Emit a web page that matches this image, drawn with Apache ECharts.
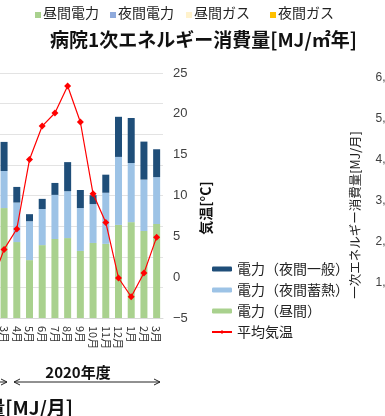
<!DOCTYPE html>
<html><head><meta charset="utf-8">
<script src="https://cdn.jsdelivr.net/npm/echarts@6/dist/echarts.min.js"></script>
<style>html,body{margin:0;padding:0;background:#fff;overflow:hidden;width:385px;height:416px;}
#c{position:absolute;left:-15px;top:0;width:400px;height:416px;}</style>
</head><body><div id="c"></div>
<script>
// Categories (first one is cut off the left edge in the reference)
const months = ['2月','3月','4月','5月','6月','7月','8月','9月','10月','11月','12月','1月','2月','3月'];
// Stacked electricity (left axis, units of 10^5 MJ)
const dayPower   = [null, 3.59, 2.48, 1.89, 2.38, 2.58, 2.61, 2.19, 2.45, 2.42, 3.04, 3.13, 2.84, 3.07];
const nightStore = [null, 1.21, 1.29, 1.27, 1.18, 1.44, 1.53, 1.40, 1.27, 1.67, 2.22, 1.93, 1.68, 1.53];
const nightGen   = [null, 0.95, 0.51, 0.23, 0.33, 0.39, 0.95, 0.59, 0.29, 0.59, 1.31, 1.47, 1.24, 0.91];
// Average temperature (right axis, °C)
const avgTemp    = [-0.8, 3.4, 5.9, 14.4, 18.5, 20.1, 23.4, 19.0, 10.2, 6.7, -0.1, -2.4, 0.5, 4.9];
// Neighbouring chart's tick values (cut at right edge)
const sideTicks  = [0, 1000000, 2000000, 3000000, 4000000, 5000000, 6000000];
// Header legend texts
const headerNames  = ['昼間電力','夜間電力','昼間ガス','夜間ガス'];
const headerColors = ['#a9d18e','#8faadc','#fff2cc','#ffc000'];
const seriesNames = ['電力（夜間一般）','電力（夜間蓄熱）','電力（昼間）','平均気温'];

const JP = '"Noto Sans CJK JP", sans-serif';
const OX = 15; // chart canvas is shifted 15px to the left of the page
const chart = echarts.init(document.getElementById('c'), null, {renderer:'canvas'});

const headerX = [35, 110, 186, 270];
const graphics = [];
headerNames.forEach((n,i)=>{
  graphics.push({type:'rect', left:headerX[i]+OX, top:12, shape:{width:6,height:6}, style:{fill:headerColors[i]}});
  graphics.push({type:'text', left:headerX[i]+8+OX, top:6, style:{text:n, font:'14px '+JP, fill:'#222'}});
});
graphics.push({type:'text', left:50+OX, top:30, style:{text:'病院1次エネルギー消費量[MJ/㎡年]', font:'bold 19px '+JP, fill:'#111'}});
graphics.push({type:'text', x:206+OX, y:208, rotation:Math.PI/2, style:{text:'気温[°C]', font:'bold 14px '+JP, fill:'#111', align:'center', verticalAlign:'middle'}});
graphics.push({type:'text', x:355+OX, y:215, rotation:Math.PI/2, style:{text:'一次エネルギー消費量[MJ/月]', font:'12.5px '+JP, fill:'#222', align:'center', verticalAlign:'middle'}});
graphics.push({type:'text', x:78+OX, y:372, style:{text:'2020年度', font:'bold 15px '+JP, fill:'#111', align:'center', verticalAlign:'middle'}});
graphics.push({type:'line', shape:{x1:14+OX,y1:382,x2:160+OX,y2:382}, style:{stroke:'#222', lineWidth:1}});
graphics.push({type:'polyline', shape:{points:[[20+OX,379],[14+OX,382],[20+OX,385]]}, style:{stroke:'#222', lineWidth:1, fill:null}});
graphics.push({type:'polyline', shape:{points:[[154+OX,379],[160+OX,382],[154+OX,385]]}, style:{stroke:'#222', lineWidth:1, fill:null}});
graphics.push({type:'line', shape:{x1:0,y1:382,x2:7+OX,y2:382}, style:{stroke:'#222', lineWidth:1}});
graphics.push({type:'polyline', shape:{points:[[1+OX,379],[7+OX,382],[1+OX,385]]}, style:{stroke:'#222', lineWidth:1, fill:null}});
graphics.push({type:'text', x:73+OX, y:408, style:{text:'病院1次エネルギー消費量[MJ/月]', font:'bold 19px '+JP, fill:'#111', align:'right', verticalAlign:'middle'}});

chart.setOption({
  animation:false,
  backgroundColor:'#fff',
  textStyle:{fontFamily:JP},
  grid:[
    {left:0, right:222, top:73, bottom:98, containLabel:false},
    {left:452, width:100, top:78, bottom:92, containLabel:false}
  ],
  legend:{
    orient:'vertical', left:206+OX, top:257, itemGap:7, itemWidth:20, itemHeight:5,
    textStyle:{fontSize:14, color:'#222', fontFamily:JP},
    data:seriesNames.map(n=>({name:n}))
  },
  xAxis:[
    {type:'category', gridIndex:0, data:months,
     axisLine:{show:true, lineStyle:{color:'#d9d9d9'}}, axisTick:{show:false},
     axisLabel:{rotate:-90, interval:0, fontSize:11, color:'#333', margin:8, fontFamily:JP}},
    {type:'category', gridIndex:1, data:['a'], show:false}
  ],
  yAxis:[
    {type:'value', gridIndex:0, min:0, max:8, interval:1, position:'left',
     axisLabel:{show:false}, axisLine:{show:false}, axisTick:{show:false},
     splitLine:{lineStyle:{color:'#e3e3e3'}}},
    {type:'value', gridIndex:0, min:-5, max:25, interval:5, position:'right',
     axisLabel:{fontSize:13, color:'#404040', margin:10, fontFamily:'"Liberation Sans", Arial, sans-serif',
       formatter:v=> v<0 ? '−'+Math.abs(v) : String(v)},
     axisLine:{show:false}, axisTick:{show:false}, splitLine:{show:false}},
    {type:'value', gridIndex:1, min:0, max:6000000, interval:1000000,
     axisLabel:{fontSize:12, color:'#404040', margin:8, fontFamily:'"Liberation Sans", Arial, sans-serif',
       customValues: sideTicks,
       formatter:v=> v.toString().replace(/\B(?=(\d{3})+(?!\d))/g, ',')},
     axisLine:{show:false}, axisTick:{show:false}, splitLine:{show:false}}
  ],
  series:[
    {name:'電力（昼間）', type:'bar', stack:'e', xAxisIndex:0, yAxisIndex:0, barWidth:7,
     itemStyle:{color:'#a9d18e'}, data:dayPower},
    {name:'電力（夜間蓄熱）', type:'bar', stack:'e', xAxisIndex:0, yAxisIndex:0, barWidth:7,
     itemStyle:{color:'#9dc3e6'}, data:nightStore},
    {name:'電力（夜間一般）', type:'bar', stack:'e', xAxisIndex:0, yAxisIndex:0, barWidth:7,
     itemStyle:{color:'#1f4e79'}, data:nightGen},
    {name:'平均気温', type:'line', xAxisIndex:0, yAxisIndex:1, data:avgTemp,
     symbol:'diamond', symbolSize:7, lineStyle:{color:'#ff0000', width:1.2},
     itemStyle:{color:'#ff0000'}, z:5}
  ],
  graphic:graphics
});
</script></body></html>
